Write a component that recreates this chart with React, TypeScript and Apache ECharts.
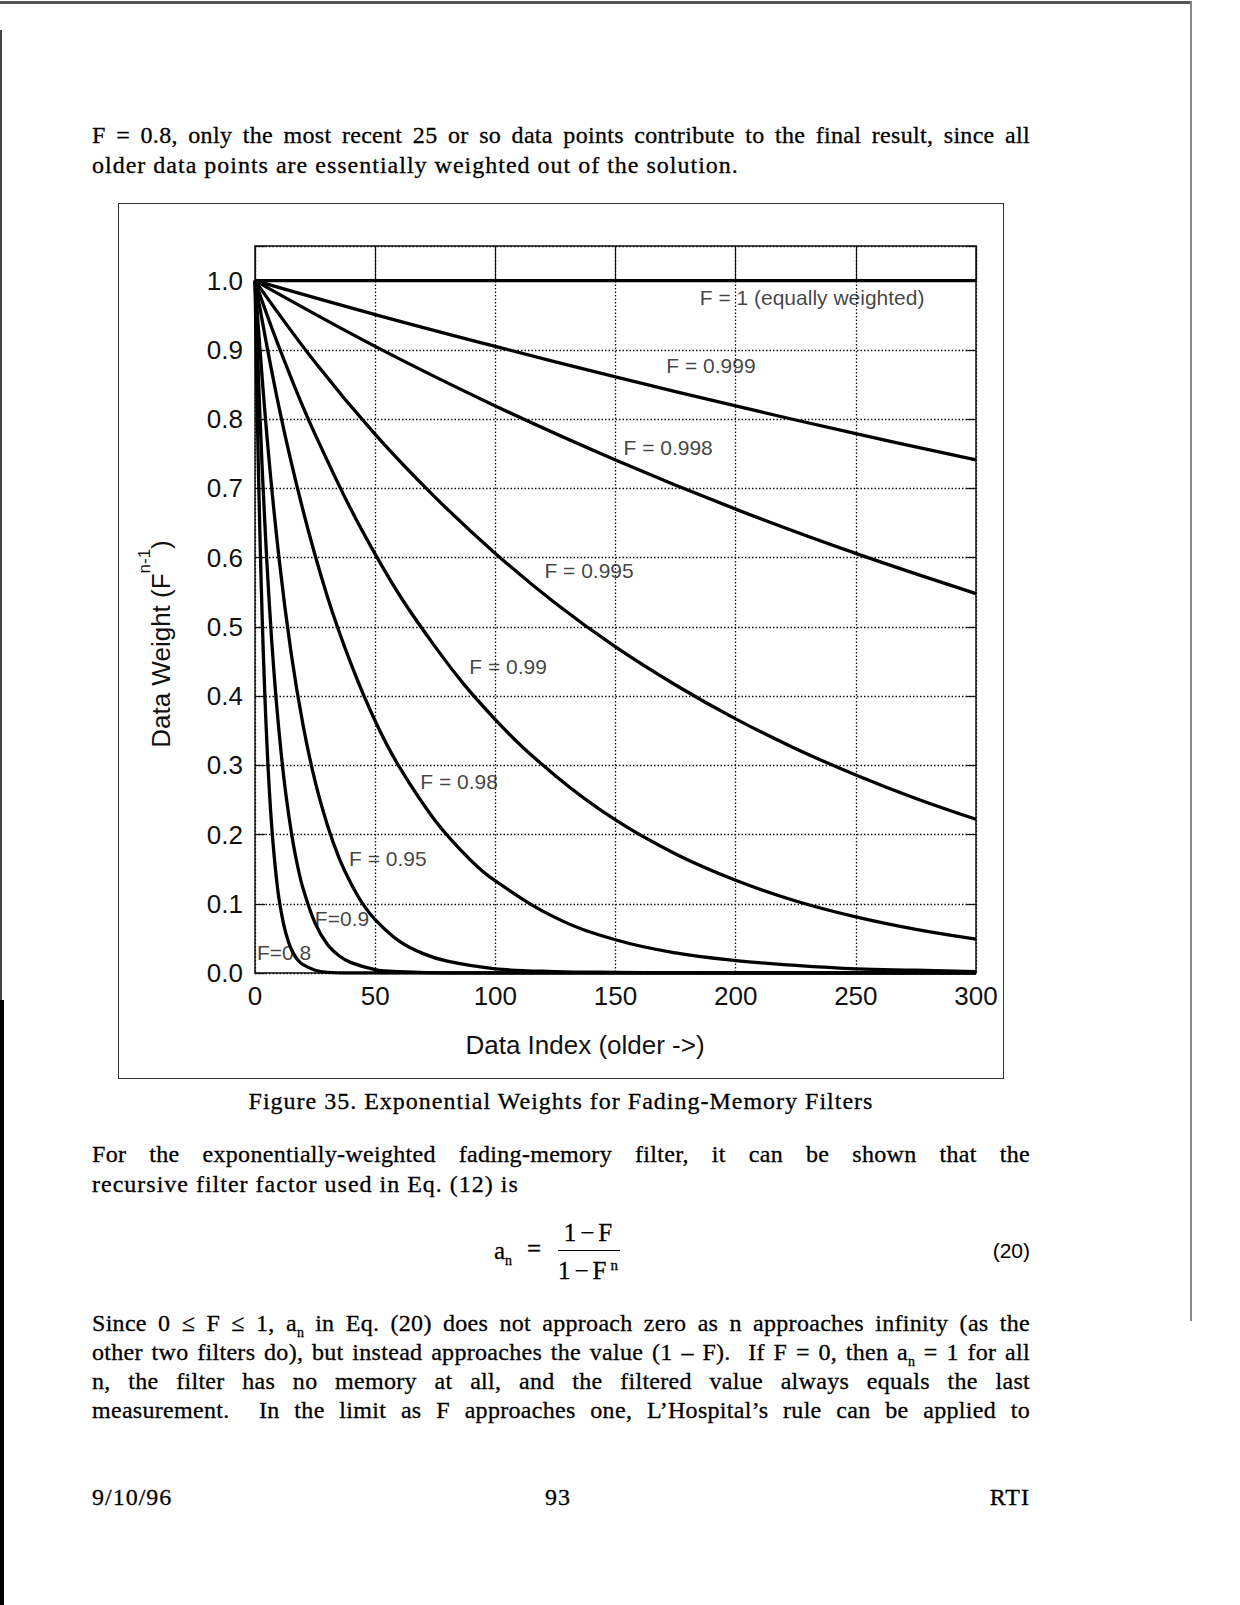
import { useEffect, useRef } from "react";
import * as echarts from "echarts";

// axis ranges (Data Index / Data Weight)
const xMin = 0;
const xMax = 300;
const xStep = 50;
const yMin = 0;
const yMax = 1.05;
const yStep = 0.1;

// weights, [data index, weight]
const weightF1 = [[0, 1], [300, 1]];
const weightF0999 = [[0, 1], [50, 0.951], [100, 0.905], [150, 0.861], [200, 0.819], [250, 0.779], [300, 0.741]];
const weightF0998 = [[0, 1], [50, 0.905], [100, 0.819], [150, 0.741], [200, 0.67], [250, 0.606], [300, 0.548]];
const weightF0995 = [
	[0, 1], [25, 0.882], [50, 0.778], [75, 0.687], [100, 0.606], [125, 0.534], [150, 0.471],
	[175, 0.416], [200, 0.367], [225, 0.324], [250, 0.286], [275, 0.252], [300, 0.222],
];
const weightF099 = [
	[0, 1], [10, 0.904], [25, 0.778], [50, 0.605], [75, 0.471], [100, 0.366], [125, 0.285],
	[150, 0.221], [175, 0.172], [200, 0.134], [225, 0.104], [250, 0.081], [275, 0.063], [300, 0.049],
];
const weightF098 = [
	[0, 1], [10, 0.817], [20, 0.668], [30, 0.545], [40, 0.446], [50, 0.364], [60, 0.298], [75, 0.22],
	[90, 0.162], [100, 0.133], [125, 0.08], [150, 0.048], [175, 0.029], [200, 0.018], [225, 0.011],
	[250, 0.006], [275, 0.004], [300, 0.002],
];
const weightF095 = [
	[0, 1], [5, 0.774], [10, 0.599], [15, 0.463], [20, 0.358], [25, 0.277], [30, 0.215], [35, 0.166],
	[40, 0.129], [45, 0.099], [50, 0.077], [60, 0.046], [70, 0.028], [80, 0.017], [100, 0.006],
	[125, 0.002], [150, 0.001], [200, 0], [300, 0],
];
const weightF09 = [
	[0, 1], [2, 0.81], [4, 0.656], [6, 0.531], [8, 0.43], [10, 0.349], [12, 0.282], [14, 0.229],
	[16, 0.185], [18, 0.15], [20, 0.122], [25, 0.072], [30, 0.042], [35, 0.025], [40, 0.015],
	[50, 0.005], [60, 0.002], [80, 0], [300, 0],
];
const weightF08 = [
	[0, 1], [1, 0.8], [2, 0.64], [3, 0.512], [4, 0.41], [5, 0.328], [6, 0.262], [7, 0.21], [8, 0.168],
	[9, 0.134], [10, 0.107], [12, 0.069], [14, 0.044], [16, 0.028], [18, 0.018], [20, 0.012],
	[25, 0.004], [30, 0.001], [40, 0], [300, 0],
];

const curves = [weightF1, weightF0999, weightF0998, weightF0995, weightF099, weightF098, weightF095, weightF09, weightF08];
const curveLabels = [
	"F = 1 (equally weighted)", "F = 0.999", "F = 0.998", "F = 0.995", "F = 0.99",
	"F = 0.98", "F = 0.95", "F=0.9", "F=0.8",
];
// where each label sits, in data coordinates
const labelSpots = [
	[231.8, 0.975], [189.7, 0.877], [171.9, 0.759], [139, 0.582], [105.3, 0.442],
	[84.9, 0.276], [55.3, 0.165], [36.2, 0.079], [12.1, 0.029],
];

const sans = '"Liberation Sans", Arial, sans-serif';
const serif = '"Liberation Serif", "Times New Roman", serif';
const ink = "#000";

const lineBase: React.CSSProperties = {
	position: "absolute",
	left: 92,
	width: 938,
	height: 30,
	lineHeight: "30px",
	fontSize: 24,
	letterSpacing: 1,
	fontFamily: serif,
	color: ink,
	WebkitTextStroke: "0.3px #000",
};

const Line = ({ y, justify, children }: { y: number; justify?: boolean; children: React.ReactNode }) => (
	<div
		style={{
			...lineBase,
			top: y - 15,
			letterSpacing: justify ? 0.3 : 1,
			textAlign: justify ? "justify" : "left",
			textAlignLast: justify ? "justify" : "left",
		}}
	>
		{children}
	</div>
);

const Sub = ({ children }: { children: React.ReactNode }) => (
	<span style={{ fontSize: 14, position: "relative", top: 6, letterSpacing: 0 }}>{children}</span>
);

const eqText: React.CSSProperties = {
	position: "absolute",
	fontSize: 25,
	fontFamily: serif,
	lineHeight: "30px",
	letterSpacing: 4,
	color: ink,
	WebkitTextStroke: "0.3px #000",
};

const Chart = () => {
	const chartRef = useRef<HTMLDivElement>(null);

	useEffect(() => {
		if (!chartRef.current) return;
		const chart = echarts.init(chartRef.current, undefined, { renderer: "svg" });

		const dotted = { color: "#111", width: 1.3, type: [1.5, 2] };
		const frame = { show: true, onZero: false, lineStyle: { color: "#111", width: 1.5 } };
		const innerTick = (length: number) => ({ show: true, inside: true, length, lineStyle: { color: "#111", width: 1.2 } });

		const option = {
			animation: false,
			backgroundColor: "transparent",
			grid: { left: 137, right: 28, top: 43, bottom: 106 },
			xAxis: [
				{
					type: "value",
					min: xMin,
					max: xMax,
					interval: xStep,
					position: "bottom",
					axisLine: frame,
					axisTick: { show: false },
					axisLabel: { color: "#111", fontSize: 26, fontFamily: sans, margin: 10 },
					splitLine: { show: true, lineStyle: dotted },
				},
				{
					type: "value",
					min: xMin,
					max: xMax,
					interval: xStep,
					position: "top",
					axisLine: frame,
					axisTick: innerTick(35),
					axisLabel: { show: false },
					splitLine: { show: false },
				},
			],
			yAxis: [
				{
					type: "value",
					min: yMin,
					max: yMax,
					interval: yStep,
					position: "left",
					axisLine: frame,
					axisTick: innerTick(10),
					axisLabel: {
						color: "#111",
						fontSize: 26,
						fontFamily: sans,
						margin: 12,
						formatter: (v: number) => (v > 1.0001 ? "" : v.toFixed(1)),
					},
					splitLine: { show: true, lineStyle: dotted },
				},
				{
					type: "value",
					min: yMin,
					max: yMax,
					interval: yStep,
					position: "right",
					axisLine: frame,
					axisTick: innerTick(10),
					axisLabel: { show: false },
					splitLine: { show: false },
				},
			],
			graphic: [
				{
					type: "text",
					x: 37,
					y: 441,
					rotation: Math.PI / 2,
					style: {
						text: "{a|Data Weight (F}{b|n-1}{a|)}",
						textAlign: "center",
						textVerticalAlign: "middle",
						fill: "#111",
						rich: {
							a: { fontSize: 26, fontFamily: sans, fill: "#111", lineHeight: 38, verticalAlign: "bottom" },
							b: { fontSize: 17, fontFamily: sans, fill: "#111", lineHeight: 17, verticalAlign: "top" },
						},
					},
				},
				{
					type: "text",
					x: 467,
					y: 842,
					style: {
						text: "Data Index (older ->)",
						textAlign: "center",
						textVerticalAlign: "middle",
						fill: "#111",
						fontSize: 26,
						fontFamily: sans,
					},
				},
			],
			series: [
				...curves.map((data) => ({
					type: "line",
					data,
					smooth: 0.4,
					symbol: "none",
					silent: true,
					lineStyle: { color: "#000", width: 3.3 },
				})),
				{
					type: "scatter",
					silent: true,
					symbolSize: 1,
					itemStyle: { color: "rgba(0,0,0,0)" },
					data: labelSpots.map((p, i) => ({ name: curveLabels[i], value: p })),
					label: {
						show: true,
						position: "inside",
						formatter: "{b}",
						color: "#111",
						fontSize: 21,
						fontFamily: sans,
					},
					z: 5,
				},
			],
		};

		chart.setOption(option);

		return () => {
			chart.dispose();
		};
	}, []);

	return (
		<>
			<div
				style={{
					position: "absolute",
					left: 118,
					top: 203,
					width: 886,
					height: 876,
					border: "1.5px solid #333",
					boxSizing: "border-box",
				}}
			/>
			<div ref={chartRef} style={{ position: "absolute", left: 118, top: 203, width: 886, height: 876 }} />
		</>
	);
};

const App = () => {
	return (
		<div
			style={{
				position: "absolute",
				left: 0,
				top: 0,
				width: 1240,
				height: 1605,
				background: "#fff",
				overflow: "hidden",
				color: ink,
			}}
		>
			{/* scan edges */}
			<div style={{ position: "absolute", left: 0, top: 1, width: 1192, height: 3, background: "#555" }} />
			<div style={{ position: "absolute", left: 1190, top: 1, width: 1.5, height: 1320, background: "#888" }} />
			<div style={{ position: "absolute", left: 0, top: 30, width: 1.5, height: 970, background: "#444" }} />
			<div style={{ position: "absolute", left: 0, top: 1000, width: 4, height: 605, background: "#000" }} />

			<Line y={135} justify>
				F = 0.8, only the most recent 25 or so data points contribute to the final result, since all
			</Line>
			<Line y={165}>older data points are essentially weighted out of the solution.</Line>

			<Chart />

			<div
				style={{
					...lineBase,
					left: 118,
					width: 886,
					top: 1101 - 15,
					textAlign: "center",
				}}
			>
				Figure 35. Exponential Weights for Fading-Memory Filters
			</div>

			<Line y={1154} justify>
				For the exponentially-weighted fading-memory filter, it can be shown that the
			</Line>
			<Line y={1184}>recursive filter factor used in Eq. (12) is</Line>

			{/* equation (20) */}
			<div style={{ ...eqText, left: 494, top: 1236, letterSpacing: 0 }}>
				a<Sub>n</Sub>
			</div>
			<div style={{ ...eqText, left: 527, top: 1234 }}>=</div>
			<div style={{ ...eqText, left: 550, width: 80, top: 1218, textAlign: "center" }}>1−F</div>
			<div style={{ position: "absolute", left: 558, top: 1250, width: 62, height: 1.3, background: ink }} />
			<div style={{ ...eqText, left: 548, width: 80, top: 1256, textAlign: "center" }}>
				1−F<span style={{ fontSize: 15, position: "relative", top: -9, letterSpacing: 0 }}>n</span>
			</div>
			<div
				style={{
					position: "absolute",
					left: 900,
					width: 130,
					top: 1236,
					textAlign: "right",
					fontSize: 21,
					fontFamily: sans,
					lineHeight: "30px",
					color: ink,
				}}
			>
				(20)
			</div>

			<Line y={1323} justify>
				Since 0 ≤ F ≤ 1, a<Sub>n</Sub> in Eq. (20) does not approach zero as n approaches infinity (as the
			</Line>
			<Line y={1352} justify>
				other two filters do), but instead approaches the value (1 – F).&nbsp; If F = 0, then a<Sub>n</Sub> = 1 for all
			</Line>
			<Line y={1381} justify>
				n, the filter has no memory at all, and the filtered value always equals the last
			</Line>
			<Line y={1410} justify>
				measurement.&nbsp; In the limit as F approaches one, L’Hospital’s rule can be applied to
			</Line>

			{/* footer */}
			<div style={{ ...lineBase, top: 1497 - 15 }}>9/10/96</div>
			<div style={{ ...lineBase, top: 1497 - 15, left: 458, width: 200, textAlign: "center" }}>93</div>
			<div style={{ ...lineBase, top: 1497 - 15, textAlign: "right" }}>RTI</div>
		</div>
	);
};

export default App;
